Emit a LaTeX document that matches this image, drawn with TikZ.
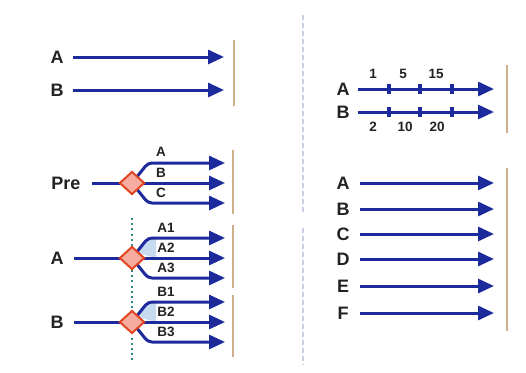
\documentclass[tikz,border=0pt]{standalone}
\usepackage{fontspec}
\setmainfont{Liberation Sans}
\usetikzlibrary{arrows.meta,shapes.geometric}

\definecolor{flowblue}{HTML}{1C2A9C}
\definecolor{walltan}{HTML}{CDB08A}
\definecolor{gatered}{HTML}{E0451F}
\definecolor{gatepink}{HTML}{F6ADA0}
\definecolor{inkgray}{HTML}{222222}
\definecolor{splitblue}{HTML}{C6DAF0}
\definecolor{syncteal}{HTML}{2E8A7A}
\definecolor{dividergray}{HTML}{C9D0E4}

\begin{document}
\begin{tikzpicture}[x=1pt,y=-1pt,
  lbl/.style={font=\bfseries\fontsize{18}{18}\selectfont, text=inkgray, inner sep=0pt},
  sm/.style={font=\bfseries\fontsize{13.5}{13.5}\selectfont, text=inkgray, inner sep=0pt},
  flow/.style={draw=flowblue, line width=3pt, -{Triangle[length=16pt,width=14pt]}},
  plain/.style={draw=flowblue, line width=3pt},
  tick/.style={draw=flowblue, line width=3.4pt},
  wall/.style={draw=walltan, line width=2.4pt},
  gate/.style={diamond, draw=gatered, fill=gatepink, line width=2pt,
               minimum width=25pt, minimum height=23pt, inner sep=0pt},
]
\useasboundingbox (0,0) rectangle (526,372);
\fill[white] (0,0) rectangle (526,372);

% faint divider between the two columns
\draw[dividergray, line width=1.6pt, dash pattern=on 5pt off 3pt] (303,15) -- (303,212);
\draw[dividergray, line width=1.6pt, dash pattern=on 5pt off 3pt] (303,228) -- (303,365);

% ---------- two independent flows ----------
\node[lbl] (pa) at (57,57) {A};
\node[lbl] (pb) at (57,90) {B};
\coordinate (pas) at (73,57);  \coordinate (pae) at (224,57);
\coordinate (pbs) at (73,90);  \coordinate (pbe) at (224,90);
\draw[flow] (pas) -- (pae);
\draw[flow] (pbs) -- (pbe);
\coordinate (w1t) at (234,40); \coordinate (w1b) at (234,106);
\draw[wall] (w1t) -- (w1b);

% ---------- flows with checkpoints ----------
\node[lbl] (qa) at (343,89) {A};
\node[lbl] (qb) at (343,112) {B};
\coordinate (qas) at (358,89);  \coordinate (qae) at (494,89);
\coordinate (qbs) at (358,112); \coordinate (qbe) at (494,112);
\draw[flow] (qas) -- (qae);
\draw[flow] (qbs) -- (qbe);
\foreach \x in {389,420,452} {
  \draw[tick] (\x,84) -- (\x,94);
  \draw[tick] (\x,107) -- (\x,117);
}
\node[sm] (ta1) at (373,74) {1};
\node[sm] (ta2) at (403,74) {5};
\node[sm] (ta3) at (436,74) {15};
\node[sm] (tb1) at (373,127) {2};
\node[sm] (tb2) at (405,127) {10};
\node[sm] (tb3) at (437,127) {20};
\coordinate (w2t) at (507,65); \coordinate (w2b) at (507,133);
\draw[wall] (w2t) -- (w2b);

% ---------- one split into three ----------
\node[lbl] (pre) at (66,183) {Pre};
\coordinate (pres) at (92,183);
\coordinate (g1) at (132,183);
\draw[plain] (pres) -- (g1);
\coordinate (g1a) at (225,163);
\coordinate (g1b) at (225,183);
\coordinate (g1c) at (225,203);
\draw[flow, rounded corners=4pt] (g1) -- (148,163) -- (g1a);
\draw[flow] (g1) -- (g1b);
\draw[flow, rounded corners=4pt] (g1) -- (148,203) -- (g1c);
\node[gate] (d1) at (g1) {};
\node[sm] (l1a) at (161,152) {A};
\node[sm] (l1b) at (161,173) {B};
\node[sm] (l1c) at (161,193) {C};
\coordinate (w3t) at (233,150); \coordinate (w3b) at (233,214);
\draw[wall] (w3t) -- (w3b);

% ---------- two synchronised splits ----------
\coordinate (g2) at (132,258);
\coordinate (g3) at (132,322);
\fill[splitblue] (138,253) -- (149,238) -- (156,238) -- (156,258) -- cycle;
\fill[splitblue] (138,317) -- (149,302) -- (156,302) -- (156,322) -- cycle;
\coordinate (syt) at (132,218); \coordinate (syb) at (132,362);
\draw[syncteal, line width=2pt, dash pattern=on 2pt off 3.2pt] (syt) -- (syb);

\node[lbl] (sa) at (57,258) {A};
\node[lbl] (sb) at (57,322) {B};
\coordinate (sas) at (74,258);
\coordinate (sbs) at (74,322);
\draw[plain] (sas) -- (g2);
\draw[plain] (sbs) -- (g3);

\coordinate (g2a) at (225,238);
\coordinate (g2b) at (225,258);
\coordinate (g2c) at (225,278);
\draw[flow, rounded corners=4pt] (g2) -- (148,238) -- (g2a);
\draw[flow] (g2) -- (g2b);
\draw[flow, rounded corners=4pt] (g2) -- (148,278) -- (g2c);
\node[gate] (d2) at (g2) {};

\coordinate (g3a) at (225,302);
\coordinate (g3b) at (225,322);
\coordinate (g3c) at (225,342);
\draw[flow, rounded corners=4pt] (g3) -- (148,302) -- (g3a);
\draw[flow] (g3) -- (g3b);
\draw[flow, rounded corners=4pt] (g3) -- (148,342) -- (g3c);
\node[gate] (d3) at (g3) {};

\node[sm] (l2a) at (166,228) {A1};
\node[sm] (l2b) at (166,248) {A2};
\node[sm] (l2c) at (166,268) {A3};
\node[sm] (l3a) at (166,292) {B1};
\node[sm] (l3b) at (166,312) {B2};
\node[sm] (l3c) at (166,332) {B3};
\coordinate (w4t) at (233,225); \coordinate (w4b) at (233,288);
\draw[wall] (w4t) -- (w4b);
\coordinate (w5t) at (233,295); \coordinate (w5b) at (233,357);
\draw[wall] (w5t) -- (w5b);

% ---------- six parallel flows ----------
\foreach \n/\t/\y in {ra/A/183, rb/B/209, rc/C/234, rd/D/259, re/E/286, rf/F/313} {
  \node[lbl] (\n) at (343,\y) {\t};
  \coordinate (\n s) at (360,\y);
  \coordinate (\n e) at (494,\y);
  \draw[flow] (\n s) -- (\n e);
}
\coordinate (w6t) at (507,168); \coordinate (w6b) at (507,331);
\draw[wall] (w6t) -- (w6b);
\end{tikzpicture}
\end{document}
